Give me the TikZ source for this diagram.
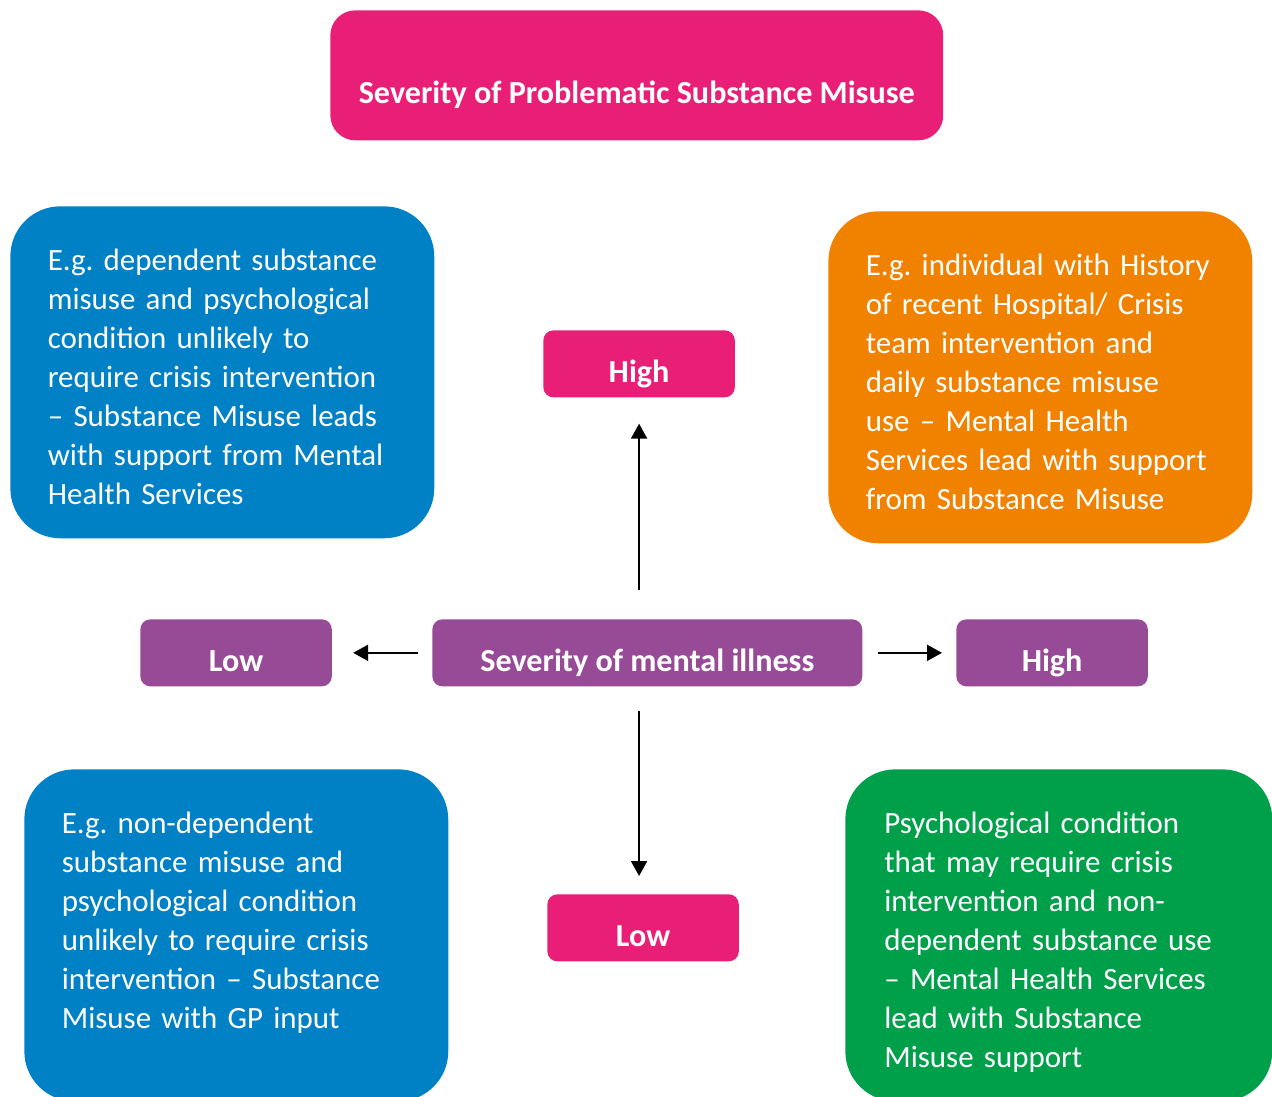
\documentclass[tikz,border=0pt]{standalone}
\usepackage{fontspec}
\setmainfont{Carlito}
\usetikzlibrary{arrows.meta}

\definecolor{subpink}{RGB}{233,30,118}
\definecolor{eqblue}{RGB}{0,129,198}
\definecolor{mhorange}{RGB}{240,130,0}
\definecolor{mipurple}{RGB}{151,75,151}
\definecolor{mhgreen}{RGB}{0,160,75}

\newcommand\quadfont{\fontsize{17.6}{22.2}\selectfont\frenchspacing\hyphenpenalty=10000\relax}

\begin{document}
\begin{tikzpicture}[x=0.02cm,y=-0.02cm,
		bigbox/.style={anchor=north west,rounded corners=1cm,text=white,inner ysep=0pt,inner xsep=0.75cm,
			text width=6.98cm,align=left,text height=1.28cm,text depth=5.36cm,font=\quadfont},
		tagbox/.style={anchor=north west,rounded corners=0.2cm,text=white,inner sep=0pt,
			minimum width=3.83cm,text height=1.04cm,text depth=0.3cm,
			font=\fontsize{18.3}{22}\selectfont\bfseries},
		arr/.style={-{Triangle[length=0.3cm,width=0.32cm]},line width=1.2pt}]
			\useasboundingbox (0,0) rectangle (1272,1097);
			\node[tagbox,fill=subpink,minimum width=12.26cm,rounded corners=0.5cm,text height=1.86cm,text depth=0.74cm] (title) at (330,10) {Severity of Problematic Substance Misuse};
			\node[bigbox,fill=eqblue] (topleft) at (10,206) {E.g. dependent substance\\misuse and psychological\\condition unlikely to\\require crisis intervention\\-- Substance Misuse leads\\with support from Mental\\Health Services};
			\node[bigbox,fill=mhorange] (topright) at (828,211) {E.g. individual with History\\of recent Hospital/ Crisis\\team intervention and\\daily substance misuse\\use -- Mental Health\\Services lead with support\\from Substance Misuse};
			\node[tagbox,fill=subpink] (highsub) at (543,330) {High};
			\node[tagbox,fill=mipurple] (lowmi) at (140,619) {Low};
			\node[tagbox,fill=mipurple,minimum width=8.6cm] (sevmi) at (432,619) {Severity of mental illness};
			\node[tagbox,fill=mipurple] (highmi) at (956,619) {High};
			\node[tagbox,fill=subpink] (lowsub) at (547,894) {Low};
			\node[bigbox,fill=eqblue] (botleft) at (24,769) {E.g. non-dependent\\substance misuse and\\psychological condition\\unlikely to require crisis\\intervention -- Substance\\Misuse with GP input};
			\node[bigbox,fill=mhgreen,inner xsep=0.78cm] (botright) at (845,769) {Psychological condition\\that may require crisis\\intervention and non-\\dependent substance use\\-- Mental Health Services\\lead with Substance\\Misuse support};
			\draw[arr,shorten <=0.58cm,shorten >=0.52cm] (highsub.south |- sevmi.north) -- (highsub.south);
			\draw[arr,shorten <=0.48cm,shorten >=0.36cm] (highsub.south |- sevmi.south) -- (highsub.south |- lowsub.north);
			\draw[arr,shorten <=0.28cm,shorten >=0.42cm] (sevmi.west) -- (lowmi.east);
			\draw[arr,shorten <=0.3cm,shorten >=0.28cm] (sevmi.east) -- (highmi.west);
		\end{tikzpicture}
\end{document}
